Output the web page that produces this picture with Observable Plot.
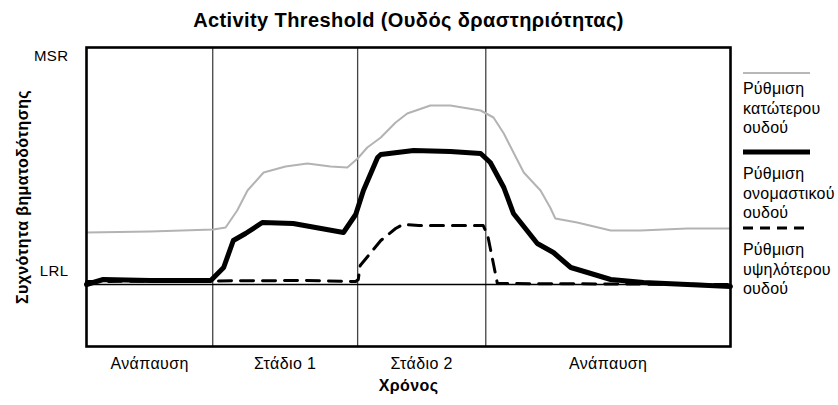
<!DOCTYPE html>
<html>
<head>
<meta charset="utf-8">
<script src="https://cdn.jsdelivr.net/npm/d3@7"></script>
<script src="https://cdn.jsdelivr.net/npm/@observablehq/plot@0.6"></script>
<style>
  html, body { margin: 0; padding: 0; background: white; }
  #wrap { position: relative; width: 838px; height: 405px; font-family: "Liberation Sans", Arial, sans-serif; }
  #wrap svg text { letter-spacing: 0.4px; }
  #wrap svg g[aria-label="title"] text { letter-spacing: 0.6px; }
  #legend { position: absolute; left: 743px; top: 0; width: 95px; height: 405px; overflow: hidden; }
  .lg-line { position: absolute; left: 0; }
  .lg-text { position: absolute; left: 0; font-size: 16px; letter-spacing: 0.2px; line-height: 19.5px; color: #000; white-space: nowrap; }
</style>
</head>
<body>
<div id="wrap"><div id="legend"></div></div>
<script>
// ---- data (time 0..100, rate in bpm-like units) ----
const title = "Activity Threshold (Ουδός δραστηριότητας)";
const yLabel = "Συχνότητα βηματοδότησης";
const xLabel = "Χρόνος";
const stageNames = ["Ανάπαυση", "Στάδιο 1", "Στάδιο 2", "Ανάπαυση"];
const stageEdges = [0, 19.6, 42.1, 62.0, 100];
const LRL = 60;
const MSR = 175;
const yTickLabels = ["MSR", "LRL"];

// Ρύθμιση κατώτερου ουδού (gray)
const lowerSetting = [
  [0, 86], [9.9, 86.5], [19.7, 87.5], [21.6, 88.5], [23.4, 97], [25.0, 107], [27.5, 116],
  [30.9, 119], [34.3, 120.5], [37.9, 119], [40.5, 118.5], [42.1, 123], [43.6, 128.5],
  [45.7, 133.5], [48.0, 141], [49.8, 145.5], [53.4, 149.5], [56.5, 149.5], [61.2, 147],
  [63.2, 143.5], [64.8, 135.5], [66.3, 126], [67.9, 116], [70.5, 107], [72.0, 98.5],
  [72.8, 93], [76.2, 91], [81.4, 87], [86.0, 87], [93.3, 88], [100, 88]
];
// Ρύθμιση ονομαστικού ουδού (thick black)
const nominalSetting = [
  [0, 60], [2.6, 62.5], [9.9, 62], [19.3, 62], [21.3, 68.5], [22.8, 82], [24.7, 85.5],
  [27.3, 91], [32.1, 90.5], [39.9, 86], [41.8, 95], [43.0, 107], [45.2, 123.5], [45.7, 125],
  [50.8, 127], [56.5, 126.5], [61.2, 125.5], [62.7, 121], [64.8, 108.5], [66.3, 95.5],
  [70.0, 80.5], [72.5, 76], [75.2, 68.5], [77.8, 66], [81.4, 62.5], [86.5, 61], [93.3, 60], [100, 59]
];
// Ρύθμιση υψηλότερου ουδού (dashed)
const upperSetting = [
  [0, 61.5], [33.7, 62], [41.8, 61.5], [42.2, 62.5], [42.5, 69.5], [45.7, 82], [48.0, 88],
  [49.1, 90], [51.6, 89.5], [61.6, 89.5], [62.3, 84.5], [63.8, 60.5], [100, 60]
];
const legendItems = [
  {lines: ["Ρύθμιση", "κατώτερου", "ουδού"], stroke: "#b8b8b8", width: 2, dash: null},
  {lines: ["Ρύθμιση", "ονομαστικού", "ουδού"], stroke: "#000", width: 5, dash: null},
  {lines: ["Ρύθμιση", "υψηλότερου", "ουδού"], stroke: "#000", width: 3, dash: "10,7"}
];

const font = "Liberation Sans, Arial, sans-serif";
const px = d => d[0], py = d => d[1];

const chart = Plot.plot({
  width: 838,
  height: 405,
  marginLeft: 86,
  marginRight: 108,
  marginTop: 47,
  marginBottom: 59,
  x: {domain: [0, 100], axis: null},
  y: {domain: [29, 178.5], axis: null},
  style: {fontFamily: font, background: "white", color: "black", overflow: "visible"},
  marks: [
    Plot.ruleX(stageEdges.slice(1, -1), {stroke: "#444", strokeWidth: 1.3}),
    Plot.ruleY([LRL], {stroke: "#000", strokeWidth: 1.6}),
    Plot.line(lowerSetting, {x: px, y: py, stroke: "#b3b3b3", strokeWidth: 2}),
    Plot.line(upperSetting, {x: px, y: py, stroke: "#000", strokeWidth: 3, strokeDasharray: "13,9"}),
    Plot.line(nominalSetting, {x: px, y: py, stroke: "#000", strokeWidth: 5, strokeLinejoin: "round"}),
    Plot.frame({stroke: "#000", strokeWidth: 2.6}),
    // y tick labels
    Plot.text([yTickLabels[0]], {y: [MSR], text: d => d, frameAnchor: "left", textAnchor: "end", lineAnchor: "bottom", dx: -18, dy: 6, fontSize: 15}),
    Plot.text([yTickLabels[1]], {y: [LRL], text: d => d, frameAnchor: "left", textAnchor: "end", lineAnchor: "bottom", dx: -18, dy: -9, fontSize: 15}),
    // stage labels
    Plot.text(stageNames, {x: (d, i) => (stageEdges[i] + stageEdges[i + 1]) / 2, text: d => d, frameAnchor: "bottom", lineAnchor: "bottom", dy: 22.5, fontSize: 16}),
    // axis titles
    Plot.text([xLabel], {text: d => d, frameAnchor: "bottom", lineAnchor: "bottom", dy: 44, fontSize: 16, fontWeight: "bold"}),
    Plot.text([yLabel], {text: d => d, frameAnchor: "left", textAnchor: "middle", dx: -64, rotate: -90, fontSize: 16, fontWeight: "bold"}),
    // title
    Plot.text([title], {text: d => d, frameAnchor: "top", lineAnchor: "bottom", dy: -20.3, fontSize: 20, fontWeight: "bold", ariaLabel: "title"})
  ]
});
document.getElementById("wrap").prepend(chart);

// legend
const legend = document.getElementById("legend");
const lineY = [73, 152, 228];
const textTop = [79, 164, 240];
legendItems.forEach((item, i) => {
  const svgNS = "http://www.w3.org/2000/svg";
  const s = document.createElementNS(svgNS, "svg");
  s.setAttribute("width", 70); s.setAttribute("height", 10);
  s.setAttribute("class", "lg-line");
  s.style.top = (lineY[i] - 5) + "px";
  const l = document.createElementNS(svgNS, "line");
  l.setAttribute("x1", 0); l.setAttribute("x2", 67); l.setAttribute("y1", 5); l.setAttribute("y2", 5);
  l.setAttribute("stroke", item.stroke); l.setAttribute("stroke-width", item.width);
  if (item.dash) l.setAttribute("stroke-dasharray", item.dash);
  s.appendChild(l);
  legend.appendChild(s);
  const t = document.createElement("div");
  t.className = "lg-text";
  t.style.top = textTop[i] + "px";
  t.innerHTML = item.lines.join("<br>");
  legend.appendChild(t);
});
</script>
</body>
</html>
